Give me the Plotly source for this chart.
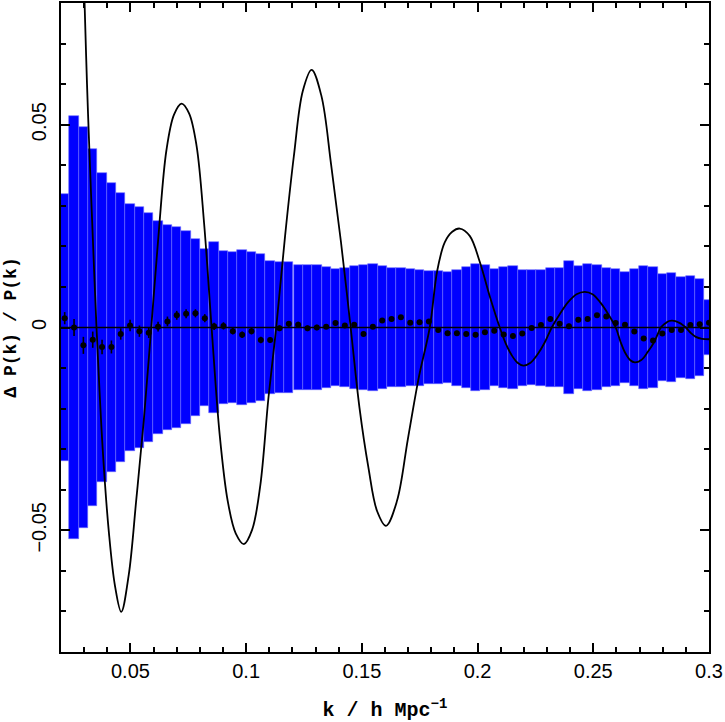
import plotly.graph_objs as go

# DATA ##########################################################################

# bin centres, k in h/Mpc
k_bins = [0.02160, 0.02564, 0.02967, 0.03371, 0.03774, 0.04178, 0.04581, 0.04985, 0.05388, 0.05792,
          0.06195, 0.06599, 0.07002, 0.07406, 0.07809, 0.08213, 0.08616, 0.09020, 0.09423, 0.09827,
          0.10230, 0.10634, 0.11037, 0.11441, 0.11844, 0.12248, 0.12651, 0.13055, 0.13458, 0.13862,
          0.14265, 0.14669, 0.15072, 0.15476, 0.15879, 0.16283, 0.16686, 0.17090, 0.17493, 0.17897,
          0.18300, 0.18704, 0.19107, 0.19511, 0.19914, 0.20318, 0.20721, 0.21125, 0.21528, 0.21932,
          0.22335, 0.22739, 0.23142, 0.23546, 0.23949, 0.24353, 0.24756, 0.25160, 0.25563, 0.25967,
          0.26370, 0.26774, 0.27177, 0.27581, 0.27984, 0.28388, 0.28791, 0.29195, 0.29598, 0.30000]
bin_width = 0.004035

# 1 sigma band (blue)
sigma = [0.0330, 0.0521, 0.0495, 0.0439, 0.0381, 0.0356, 0.0331, 0.0305, 0.0297, 0.0282,
         0.0262, 0.0252, 0.0247, 0.0238, 0.0217, 0.0193, 0.0210, 0.0189, 0.0186, 0.0192,
         0.0186, 0.0182, 0.0165, 0.0161, 0.0162, 0.0153, 0.0154, 0.0155, 0.0150, 0.0144,
         0.0147, 0.0151, 0.0155, 0.0157, 0.0152, 0.0147, 0.0146, 0.0144, 0.0143, 0.0139,
         0.0139, 0.0136, 0.0143, 0.0150, 0.0157, 0.0154, 0.0144, 0.0148, 0.0151, 0.0143,
         0.0141, 0.0143, 0.0147, 0.0146, 0.0164, 0.0152, 0.0157, 0.0154, 0.0147, 0.0144,
         0.0138, 0.0144, 0.0151, 0.0150, 0.0131, 0.0135, 0.0124, 0.0126, 0.0119, 0.0068]

# measured points
dp = [0.0023, 0.0000, -0.0044, -0.0030, -0.0048, -0.0048, -0.0016, 0.0005, -0.0009, -0.0013,
      0.0002, 0.0015, 0.0030, 0.0034, 0.0035, 0.0023, 0.0003, 0.0004, -0.0009, -0.0018,
      -0.0009, -0.0031, -0.0031, -0.0002, 0.0009, 0.0007, -0.0002, 0.0000, 0.0002, 0.0011,
      0.0005, 0.0007, -0.0016, 0.0002, 0.0017, 0.0021, 0.0025, 0.0012, 0.0013, 0.0015,
      -0.0006, -0.0014, -0.0014, -0.0016, -0.0018, -0.0012, -0.0008, -0.0017, -0.0021, -0.0015,
      -0.0001, 0.0006, 0.0021, 0.0009, 0.0003, 0.0019, 0.0021, 0.0030, 0.0027, 0.0011,
      0.0007, -0.0010, -0.0027, -0.0032, -0.0015, -0.0006, -0.0006, 0.0006, 0.0008, 0.0012]
dp_err = [0.0015, 0.0021, 0.0021, 0.0020, 0.0018, 0.0016, 0.0014, 0.0014, 0.0014, 0.0013,
          0.0012, 0.0012, 0.0011, 0.0011, 0.0010, 0.0010, 0.0009, 0.0009, 0.0008, 0.0008,
          0.0008, 0.0008, 0.0007, 0.0007, 0.0007, 0.0007, 0.0007, 0.0007, 0.0006, 0.0006,
          0.0006, 0.0006, 0.0006, 0.0006, 0.0006, 0.0006, 0.0006, 0.0006, 0.0006, 0.0006,
          0.0006, 0.0006, 0.0006, 0.0006, 0.0006, 0.0006, 0.0006, 0.0006, 0.0006, 0.0006,
          0.0006, 0.0006, 0.0006, 0.0006, 0.0006, 0.0006, 0.0006, 0.0006, 0.0006, 0.0006,
          0.0006, 0.0006, 0.0006, 0.0006, 0.0006, 0.0006, 0.0006, 0.0006, 0.0006, 0.0006]

# model curve, every quarter of a quarter-wave
k_model = [0.0285, 0.0294, 0.03016, 0.03124, 0.03254, 0.03396, 0.03535,
           0.03802, 0.04069, 0.04336, 0.04603, 0.04927, 0.05252, 0.05576, 0.0590,
           0.06228, 0.06555, 0.06883, 0.0721, 0.07534, 0.07858, 0.08183, 0.08507,
           0.08856, 0.09205, 0.09554, 0.09903, 0.10257, 0.1061, 0.10966, 0.1130,
           0.11683, 0.12065, 0.12448, 0.1283, 0.13252, 0.13673, 0.14095, 0.14516,
           0.14898, 0.1528, 0.15661, 0.16043, 0.16516, 0.16988, 0.17461, 0.17933,
           0.18257, 0.18581, 0.18905, 0.19229, 0.19661, 0.20094, 0.20526, 0.20958,
           0.21214, 0.21471, 0.21727, 0.21983, 0.22289, 0.22595, 0.229, 0.23206,
           0.23563, 0.2392, 0.24276, 0.24633, 0.24967, 0.25302, 0.25636, 0.2597,
           0.26176, 0.26383, 0.26589, 0.26795, 0.27076, 0.27357, 0.27638, 0.27919,
           0.28038, 0.28156, 0.28275, 0.28394, 0.28546, 0.28697, 0.28849, 0.2900,
           0.2922, 0.2943, 0.2970, 0.3000]
dp_model = [0.108, 0.094, 0.0805, 0.060, 0.0395, 0.019, 0.0,
            -0.0300, -0.0505, -0.0638, -0.0701, -0.0610, -0.0425, -0.0230, 0.0,
            0.0238, 0.0437, 0.0525, 0.0552, 0.0528, 0.0448, 0.0257, 0.0,
            -0.0264, -0.0428, -0.0508, -0.0534, -0.0499, -0.0390, -0.0172, 0.0,
            0.0226, 0.0424, 0.0583, 0.0635, 0.0571, 0.0401, 0.0212, 0.0,
            -0.0198, -0.0344, -0.0453, -0.0489, -0.0428, -0.0275, -0.0123, 0.0,
            0.0140, 0.0210, 0.0236, 0.0244, 0.0226, 0.0162, 0.0077, 0.0,
            -0.0039, -0.0068, -0.0087, -0.0094, -0.0087, -0.0066, -0.0037, 0.0,
            0.0034, 0.0063, 0.0082, 0.0088, 0.0082, 0.0062, 0.0034, 0.0,
            -0.0035, -0.0063, -0.0080, -0.0086, -0.0080, -0.0060, -0.0035, 0.0,
            0.0007, 0.0012, 0.0016, 0.0017, 0.0016, 0.0012, 0.0007, 0.0,
            -0.0014, -0.0023, -0.0028, -0.0029]

# FIGURE ########################################################################

fig = go.Figure()

fig.add_trace(go.Bar(
    x=k_bins,
    y=[2 * s for s in sigma],
    base=[-s for s in sigma],
    width=bin_width,
    marker=dict(color='#0000ff', line=dict(color='#6a6aff', width=0.6)),
    showlegend=False,
))

fig.add_hline(y=0, line=dict(color='black', width=1.6))

fig.add_trace(go.Scatter(
    x=k_bins, y=dp,
    mode='markers',
    marker=dict(color='black', size=6),
    error_y=dict(type='data', array=dp_err, color='black', thickness=1.6, width=0),
    showlegend=False,
))

fig.add_trace(go.Scatter(
    x=k_model, y=dp_model,
    mode='lines',
    line=dict(color='black', width=1.8, shape='spline', smoothing=1.0),
    showlegend=False,
))

tick_font = dict(family='Liberation Sans', size=20, color='black')

fig.update_layout(
    width=725, height=722,
    margin=dict(l=61, r=16, t=3, b=70),
    paper_bgcolor='white',
    plot_bgcolor='white',
    bargap=0,
    xaxis=dict(
        range=[0.02, 0.3],
        tickvals=[0.05, 0.1, 0.15, 0.2, 0.25, 0.3],
        ticktext=['0.05', '0.1', '0.15', '0.2', '0.25', '0.3'],
        ticks='inside', ticklen=9, tickwidth=1.5, tickcolor='black',
        minor=dict(dtick=0.01, tick0=0, ticks='inside', ticklen=5, tickwidth=1.5, tickcolor='black'),
        showline=True, linecolor='black', linewidth=2, mirror='ticks',
        showgrid=False, zeroline=False, automargin=False,
        tickfont=tick_font,
        title=dict(text='<b>k / h Mpc<sup>−1</sup></b>',
                   font=dict(family='Liberation Mono', size=20, color='black'), standoff=21),
    ),
    yaxis=dict(
        range=[-0.08, 0.08],
        tickvals=[-0.05, 0, 0.05],
        ticktext=['−0.05', '0', '0.05'],
        tickangle=-90,
        ticklabelstandoff=5,
        ticks='inside', ticklen=9, tickwidth=1.5, tickcolor='black',
        minor=dict(dtick=0.01, tick0=0, ticks='inside', ticklen=5, tickwidth=1.5, tickcolor='black'),
        showline=True, linecolor='black', linewidth=2, mirror='ticks',
        showgrid=False, zeroline=False, automargin=False,
        tickfont=tick_font,
        title=dict(text='<b>Δ P(k) / P(k)</b>',
                   font=dict(family='Liberation Mono', size=18, color='black'), standoff=7),
    ),
)

# page has a default 8px body margin, drop it so the figure sits at the corner
fig.write_html("out.html", config={'displayModeBar': False},
               post_script="document.body.style.margin = '0';")
